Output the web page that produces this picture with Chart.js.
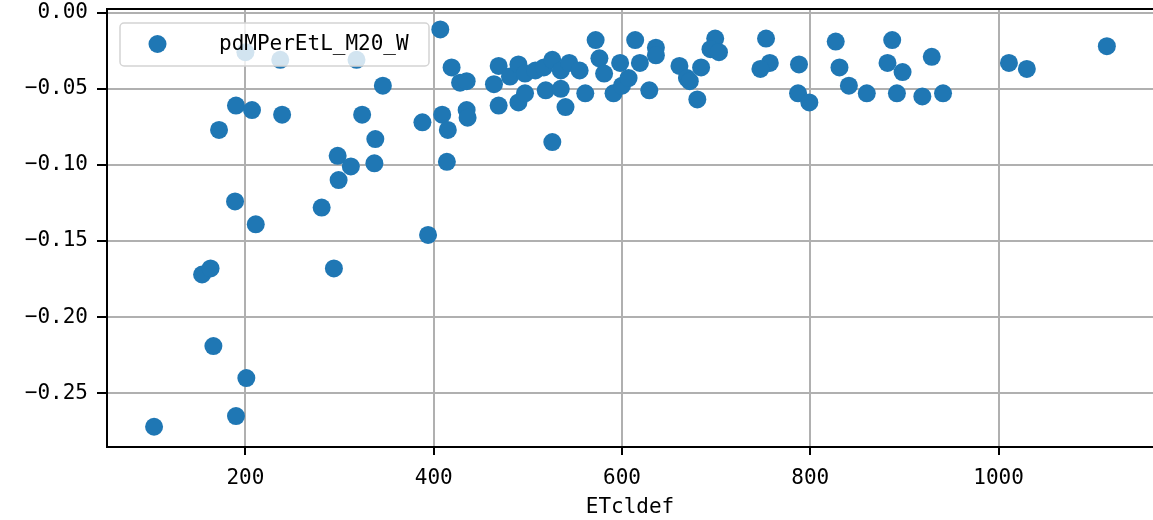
<!DOCTYPE html>
<html>
<head>
<meta charset="utf-8">
<script src="https://cdn.jsdelivr.net/npm/chart.js@4.4.1/dist/chart.umd.min.js"></script>
<style>
  html, body { margin: 0; padding: 0; background: #fff; overflow: hidden; }
  canvas { display: block; }
</style>
</head>
<body>
<canvas id="myChart" width="1162" height="520"></canvas>
<script>
// values
var seriesName = 'pdMPerEtL_M20_W';
var xTitle = 'ETcldef';
var etcDef = [
    103, 154, 163, 166, 201, 190, 189, 211, 172, 190, 207, 200, 237, 239, 281, 294,
    298, 299, 312, 318, 324, 338, 337, 346, 388, 394, 407, 409, 415, 414, 419, 428,
    435, 435, 436, 464, 469, 469, 481, 490, 490, 497, 497, 508, 517, 519, 526, 526,
    535, 535, 540, 544, 555, 561, 572, 576, 581, 591, 598, 600, 607, 614, 619, 629,
    636, 636, 661, 669, 672, 684, 680, 699, 694, 703, 753, 757, 747, 788, 787, 799,
    827, 831, 841, 860, 887, 882, 898, 892, 929, 919, 941, 1011, 1030, 1115
];
var pdMPerEtL = [
    -0.272, -0.172, -0.168, -0.219, -0.240, -0.265, -0.124, -0.139, -0.077, -0.061, -0.064, -0.026, -0.031, -0.067, -0.128, -0.168,
    -0.094, -0.110, -0.101, -0.031, -0.067, -0.083, -0.099, -0.048, -0.072, -0.146, -0.011, -0.067, -0.077, -0.098, -0.036, -0.046,
    -0.045, -0.064, -0.069, -0.047, -0.035, -0.061, -0.042, -0.034, -0.059, -0.053, -0.040, -0.038, -0.036, -0.051, -0.031, -0.085,
    -0.038, -0.050, -0.062, -0.033, -0.038, -0.053, -0.018, -0.030, -0.040, -0.053, -0.033, -0.048, -0.043, -0.018, -0.033, -0.051,
    -0.023, -0.028, -0.035, -0.043, -0.045, -0.036, -0.057, -0.017, -0.024, -0.026, -0.017, -0.033, -0.037, -0.034, -0.053, -0.059,
    -0.019, -0.036, -0.048, -0.053, -0.018, -0.033, -0.039, -0.053, -0.029, -0.055, -0.053, -0.033, -0.037, -0.022
];
var xTicks = [200, 400, 600, 800, 1000];
var yTicks = [0, -0.05, -0.10, -0.15, -0.20, -0.25];

var blue = '#1f77b4';
var tickFont = { family: "'DejaVu Sans Mono', 'Liberation Mono', monospace", size: 21 };

var points = etcDef.map(function (v, i) { return { x: v, y: pdMPerEtL[i] }; });

// top spine and the matplotlib-style legend box (right spine falls just outside the picture)
var frame = {
    id: 'frame',
    afterDatasetsDraw: function (chart) {
        var a = chart.chartArea, c = chart.ctx;
        c.save();
        c.strokeStyle = '#000';
        c.lineWidth = 2;
        c.beginPath();
        c.moveTo(a.left, a.top);
        c.lineTo(a.right, a.top);
        c.stroke();

        // legend
        var lx = a.left + 13, ly = a.top + 14, lw = 309, lh = 43;
        c.beginPath();
        c.roundRect(lx, ly, lw, lh, 4);
        c.fillStyle = 'rgba(255,255,255,0.8)';
        c.fill();
        c.strokeStyle = '#d4d4d4';
        c.lineWidth = 1.5;
        c.stroke();
        c.beginPath();
        c.arc(lx + 37.5, ly + 21, 9, 0, Math.PI * 2);
        c.fillStyle = blue;
        c.fill();
        c.fillStyle = '#000';
        c.font = tickFont.size + 'px ' + tickFont.family;
        c.textBaseline = 'middle';
        c.fillText(chart.data.datasets[0].label, lx + 99, ly + 22);
        c.restore();
    }
};

var ctx = document.getElementById('myChart');
var myChart = new Chart(ctx, {
    type: 'scatter',
    data: {
        datasets: [{
            label: seriesName,
            data: points,
            backgroundColor: blue,
            borderWidth: 0,
            pointRadius: 9,
            pointHoverRadius: 9
        }]
    },
    options: {
        responsive: false,
        animation: false,
        devicePixelRatio: 1,
        layout: { padding: { left: 0, top: 7, right: 0, bottom: 0 } },
        plugins: {
            legend: { display: false },
            tooltip: { enabled: false }
        },
        scales: {
            x: {
                type: 'linear',
                min: 53,
                max: 1164,
                afterFit: function (s) {
                    s.height = 73;
                    s.paddingLeft = 0;
                    s.paddingRight = 0;
                },
                afterBuildTicks: function (s) {
                    s.ticks = xTicks.map(function (v) { return { value: v }; });
                },
                ticks: {
                    color: 'black',
                    font: tickFont,
                    padding: 11,
                    maxRotation: 0,
                    callback: function (v) { return String(v); }
                },
                grid: {
                    color: '#b0b0b0',
                    lineWidth: 2,
                    tickColor: 'black',
                    tickLength: 8,
                    tickWidth: 2
                },
                border: { color: 'black', width: 2 },
                title: {
                    display: true,
                    text: xTitle,
                    color: 'black',
                    font: tickFont,
                    padding: { top: 0, bottom: 0 }
                }
            },
            y: {
                type: 'linear',
                min: -0.2853,
                max: 0.0024,
                afterFit: function (s) {
                    s.width = 107;
                    s.paddingTop = 0;
                    s.paddingBottom = 0;
                },
                afterBuildTicks: function (s) {
                    s.ticks = yTicks.map(function (v) { return { value: v }; });
                },
                ticks: {
                    color: 'black',
                    font: tickFont,
                    padding: 9,
                    callback: function (v) {
                        var t = Math.abs(v).toFixed(2);
                        return v < -1e-9 ? '\u2212' + t : t;
                    }
                },
                grid: {
                    color: '#b0b0b0',
                    lineWidth: 2,
                    tickColor: 'black',
                    tickLength: 10,
                    tickWidth: 2
                },
                border: { color: 'black', width: 2 }
            }
        }
    },
    plugins: [frame]
});
</script>
</body>
</html>
